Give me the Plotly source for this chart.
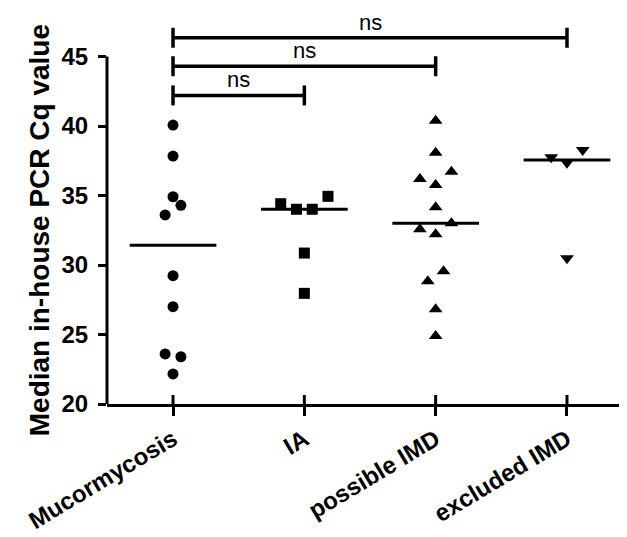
import numpy as np
import plotly.graph_objects as go

# ---------------- data ----------------
categories = ["Mucormycosis", "IA", "possible IMD", "excluded IMD"]
mucormycosis = [40.07, 37.84, 34.91, 34.29, 33.60, 29.23, 27.00, 23.60, 23.40, 22.16]
ia = [34.41, 34.01, 34.01, 34.94, 30.86, 27.96]
possible_imd = [40.38, 38.08, 36.71, 36.19, 35.76, 34.15, 33.00, 32.57, 32.21,
                29.55, 28.83, 26.81, 24.89]
excluded_imd = [37.75, 37.36, 38.27, 30.48]
comparisons = [(0, 1), (0, 2), (0, 3)]
comparison_labels = ["ns", "ns", "ns"]
y_tick_values = [20, 25, 30, 35, 40, 45]

# ---------------- layout / style ----------------
# scatter-dot spread slots (layout, not data)
spread_slots = [
    [0, 0, 0, 1, -1, 0, 0, -1, 1, 0],
    [-3, -1, 1, 3, 0, 0],
    [0, 0, 2, -2, 0, 0, 2, -2, 0, 1, -1, 0, 0],
    [-2, 0, 2, 0],
]
SLOT = 0.06
MEDIAN_HALF = 0.33
bracket_levels = [42.2, 44.3, 46.35]
CAP = 0.72
symbols = ["circle", "square", "triangle-up", "triangle-down"]
sizes = [11, 11, 12, 12]
FONT = "Liberation Sans, Arial, sans-serif"

groups = [mucormycosis, ia, possible_imd, excluded_imd]

fig = go.Figure()

for i, (vals, slots) in enumerate(zip(groups, spread_slots)):
    xs = [i + s * SLOT for s in slots]
    fig.add_trace(go.Scatter(
        x=xs, y=vals, mode="markers",
        marker=dict(symbol=symbols[i], size=sizes[i], color="black", line=dict(width=0)),
        cliponaxis=False, showlegend=False, hoverinfo="y",
    ))
    med = float(np.median(vals))
    fig.add_trace(go.Scatter(
        x=[i - MEDIAN_HALF, i + MEDIAN_HALF], y=[med, med], mode="lines",
        line=dict(color="black", width=3), showlegend=False, hoverinfo="skip",
    ))

shapes = []
# y-axis line from 20 to 45
shapes.append(dict(type="line", xref="paper", yref="y", x0=0, x1=0,
                   y0=y_tick_values[0], y1=y_tick_values[-1],
                   line=dict(color="black", width=3)))
# upward part of crossing x ticks
for i in range(len(categories)):
    shapes.append(dict(type="line", xref="x", yref="y", ysizemode="pixel",
                       yanchor=y_tick_values[0], x0=i, x1=i, y0=0, y1=9,
                       line=dict(color="black", width=3)))

annotations = []
for (a, b), lvl, lab in zip(comparisons, bracket_levels, comparison_labels):
    shapes.append(dict(type="line", xref="x", yref="y", x0=a, x1=b, y0=lvl, y1=lvl,
                       line=dict(color="black", width=3.5)))
    for xc in (a, b):
        shapes.append(dict(type="line", xref="x", yref="y", x0=xc, x1=xc,
                           y0=lvl - CAP, y1=lvl + CAP,
                           line=dict(color="black", width=3.5)))
    annotations.append(dict(x=(a + b) / 2, y=lvl, xref="x", yref="y", text=lab,
                            showarrow=False, yanchor="bottom", yshift=1,
                            font=dict(family=FONT, size=22, color="black")))

annotations.append(dict(
    text="Median in-house PCR Cq value", textangle=-90,
    xref="paper", yref="y", x=0, y=(y_tick_values[0] + y_tick_values[-1]) / 2,
    xanchor="center", yanchor="middle", xshift=-68, showarrow=False,
    font=dict(family=FONT, size=28, color="black", weight="bold"),
))

# the page body adds an 8px margin, so the figure is 8px smaller than the window
fig.update_layout(
    width=619, height=529,
    margin=dict(l=99, r=0, t=0, b=133, pad=0, autoexpand=False),
    plot_bgcolor="white", paper_bgcolor="white",
    shapes=shapes, annotations=annotations,
    xaxis=dict(
        range=[-0.5027, 3.457], tickvals=list(range(len(categories))), ticktext=categories,
        tickangle=-31, showline=True, linecolor="black", linewidth=3,
        ticks="outside", ticklen=9, tickwidth=3, tickcolor="black",
        showgrid=False, zeroline=False, ticklabelstandoff=0, automargin=False,
        tickfont=dict(family=FONT, size=24, color="black", weight="bold"),
    ),
    yaxis=dict(
        range=[20, 48.49], tickvals=y_tick_values, showline=False,
        ticks="outside", ticklen=8, tickwidth=3, tickcolor="black",
        showgrid=False, zeroline=False, ticklabelstandoff=5, automargin=False,
        tickfont=dict(family=FONT, size=24, color="black", weight="bold"),
    ),
)

fig.write_html("out.html")
